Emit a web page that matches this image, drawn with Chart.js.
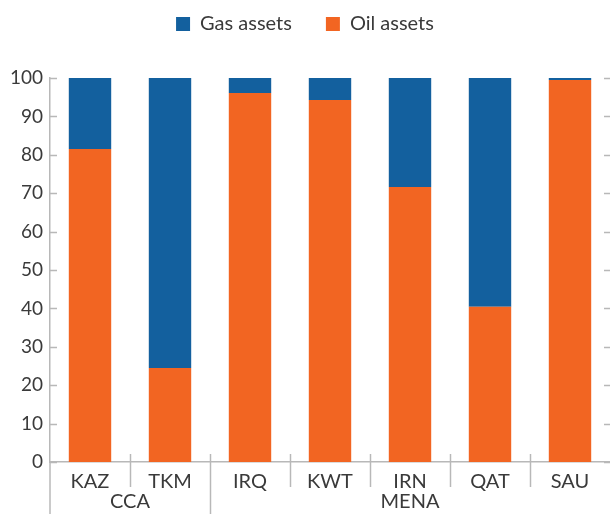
<!DOCTYPE html>
<html>
<head>
<meta charset="utf-8">
<script src="https://cdn.jsdelivr.net/npm/chart.js@4/dist/chart.umd.min.js"></script>
<style>
  html, body { margin: 0; padding: 0; background: #fff; overflow: hidden; }
  #wrap { width: 610px; height: 514px; }
</style>
</head>
<body>
<div id="wrap"><canvas id="c" width="610" height="514"></canvas></div>
<script>
const categories = ['KAZ', 'TKM', 'IRQ', 'KWT', 'IRN', 'QAT', 'SAU'];
const groups = ['CCA', 'CCA', 'MENA', 'MENA', 'MENA', 'MENA', 'MENA'];
const oilAssets = [81.5, 24.5, 96.1, 94.3, 71.6, 40.4, 99.5];
const gasAssets = [18.5, 75.5, 3.9, 5.7, 28.4, 59.6, 0.5];
const yTicks = [0, 10, 20, 30, 40, 50, 60, 70, 80, 90, 100];

const BLUE = '#13609e';
const ORANGE = '#f26522';
const AXIS = '#b8b8b8';
const TEXT = '#3a3a3a';
const FONT = 'Lato, "Open Sans", sans-serif';

const legendSpace = {
  id: 'legendSpace',
  beforeInit(chart) {
    const lg = chart.legend;
    if (lg) {
      const orig = lg.fit;
      lg.fit = function () { orig.call(this); this.height = 78; };
    }
  },
  afterLayout(chart) {
    if (chart.legend) { chart.legend.top -= 20; }
  }
};

const decor = {
  id: 'decor',
  afterDraw(chart) {
    const ctx = chart.ctx;
    const area = chart.chartArea;
    const x = chart.scales.x;
    const y = chart.scales.y;
    const H = chart.height;
    ctx.save();
    ctx.strokeStyle = AXIS;
    ctx.lineWidth = 1.5;
    yTicks.forEach(v => {
      const py = Math.round(y.getPixelForValue(v)) + 0.5;
      ctx.beginPath();
      ctx.moveTo(area.left, py); ctx.lineTo(area.left + 7, py);
      ctx.moveTo(area.right - 6, py); ctx.lineTo(area.right, py);
      ctx.stroke();
    });
    ctx.beginPath();
    ctx.moveTo(area.left, area.bottom); ctx.lineTo(area.left, H);
    ctx.stroke();
    for (let i = 1; i < categories.length; i++) {
      const bx = Math.round((x.getPixelForValue(i - 1) + x.getPixelForValue(i)) / 2) + 0.5;
      const isGroupEdge = groups[i] !== groups[i - 1];
      ctx.beginPath();
      ctx.moveTo(bx, area.bottom - 8);
      ctx.lineTo(bx, isGroupEdge ? H : area.bottom + 25);
      ctx.stroke();
    }
    ctx.fillStyle = TEXT;
    ctx.font = '20px ' + FONT;
    ctx.textAlign = 'center';
    ctx.textBaseline = 'middle';
    let start = 0;
    for (let i = 1; i <= groups.length; i++) {
      if (i === groups.length || groups[i] !== groups[start]) {
        const cx = (x.getPixelForValue(start) + x.getPixelForValue(i - 1)) / 2;
        ctx.fillText(groups[start], cx, area.bottom + 40);
        start = i;
      }
    }
    ctx.restore();
  }
};

new Chart(document.getElementById('c'), {
  type: 'bar',
  data: {
    labels: categories,
    datasets: [
      { label: 'Oil assets', data: oilAssets, backgroundColor: ORANGE, barPercentage: 0.53, categoryPercentage: 1.0 },
      { label: 'Gas assets', data: gasAssets, backgroundColor: BLUE, barPercentage: 0.53, categoryPercentage: 1.0 }
    ]
  },
  options: {
    responsive: false,
    animation: false,
    layout: { padding: 0 },
    plugins: {
      legend: {
        position: 'top',
        reverse: true,
        labels: {
          boxWidth: 14, boxHeight: 14, padding: 34,
          color: TEXT, font: { family: FONT, size: 20 }
        }
      },
      tooltip: { enabled: false }
    },
    scales: {
      x: {
        stacked: true,
        grid: { display: false, drawTicks: false },
        border: { display: true, color: AXIS, width: 1.5 },
        ticks: { color: TEXT, font: { family: FONT, size: 20 }, padding: 8, maxRotation: 0 },
        afterFit(axis) { axis.height = 52; axis.paddingLeft = 0; axis.paddingRight = 0; }
      },
      y: {
        stacked: true,
        min: 0, max: 100,
        afterBuildTicks(axis) { axis.ticks = yTicks.map(v => ({ value: v })); },
        grid: { display: false, drawTicks: false },
        border: { display: true, color: AXIS, width: 1.5 },
        ticks: { color: TEXT, font: { family: FONT, size: 19 }, padding: 7 },
        afterFit(axis) { axis.width = 50; axis.paddingTop = 0; axis.paddingBottom = 0; }
      }
    }
  },
  plugins: [legendSpace, decor]
});
</script>
</body>
</html>
